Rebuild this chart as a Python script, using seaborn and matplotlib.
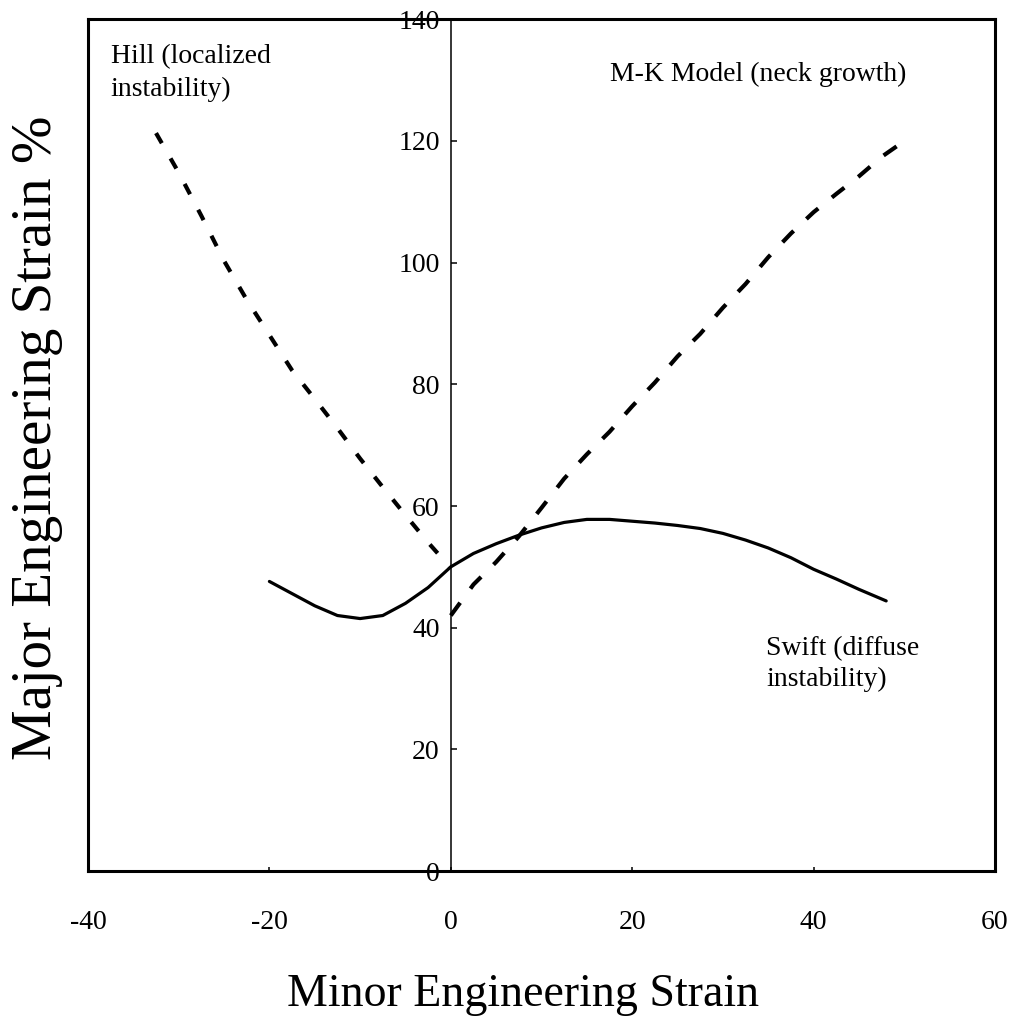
import matplotlib
matplotlib.use("Agg")
import matplotlib.pyplot as plt
import seaborn as sns
import pandas as pd

# ---- data ----
hill_x = [-32.5, -30, -27.5, -25, -22.5, -20, -17.5, -15, -12.5, -10, -7.5, -5, -2.5, 0]
hill_y = [121.3, 114.8, 107.7, 100.3, 93.9, 88.1, 82.3, 77.6, 72.8, 67.8, 63.1, 58.5, 54.0, 49.8]

mk_x = [0, 2.5, 5, 7.5, 10, 12.5, 15, 17.5, 20, 22.5, 25, 27.5, 30, 32.5, 35, 37.5, 40, 42.5, 45, 47.5, 50]
mk_y = [42.0, 47.1, 50.8, 55.0, 59.7, 64.5, 68.5, 72.2, 76.4, 80.3, 84.6, 88.3, 92.6, 96.5, 100.9,
        104.8, 108.3, 111.3, 114.2, 117.4, 120.0]

swift_x = [-20, -17.5, -15, -12.5, -10, -7.5, -5, -2.5, 0, 2.5, 5, 7.5, 10, 12.5, 15, 17.5, 20,
           22.5, 25, 27.5, 30, 32.5, 35, 37.5, 40, 42.5, 45, 48]
swift_y = [47.6, 45.6, 43.6, 42.0, 41.5, 42.0, 44.0, 46.6, 50.0, 52.2, 53.8, 55.2, 56.4, 57.3, 57.8,
           57.8, 57.5, 57.2, 56.8, 56.3, 55.5, 54.4, 53.1, 51.5, 49.6, 48.0, 46.3, 44.4]

x_ticks = [-40, -20, 0, 20, 40, 60]
y_ticks = [0, 20, 40, 60, 80, 100, 120, 140]

x_label = "Minor Engineering Strain"
y_label = "Major Engineering Strain %"
hill_text = "Hill (localized\ninstability)"
mk_text = "M-K Model (neck growth)"
swift_text = "Swift (diffuse\ninstability)"

# ---- style ----
sns.set_style("white")
plt.rcParams["font.family"] = ["Liberation Serif", "DejaVu Serif"]
plt.rcParams["text.color"] = "black"
plt.rcParams["axes.labelcolor"] = "black"
plt.rcParams["xtick.color"] = "black"
plt.rcParams["ytick.color"] = "black"

fig = plt.figure(figsize=(10.22, 10.28), dpi=100)
ax = fig.add_axes([0.0861, 0.1527, 0.8875, 0.8285])

hill_df = pd.DataFrame({"x": hill_x, "y": hill_y})
mk_df = pd.DataFrame({"x": mk_x, "y": mk_y})
swift_df = pd.DataFrame({"x": swift_x, "y": swift_y})

sns.lineplot(data=hill_df, x="x", y="y", ax=ax, color="black", lw=3.0,
             linestyle=(0, (2.8, 4.2)), sort=False)
sns.lineplot(data=mk_df, x="x", y="y", ax=ax, color="black", lw=3.0,
             linestyle=(0, (3.8, 4.2)), sort=False)
sns.lineplot(data=swift_df, x="x", y="y", ax=ax, color="black", lw=2.3, sort=False)

ax.set_xlim(-40, 60)
ax.set_ylim(0, 140)
ax.set_xticks(x_ticks)
ax.set_yticks(y_ticks)
ax.set_xticklabels([str(v) for v in x_ticks])
ax.set_yticklabels([str(v) for v in y_ticks])

# spines: box + y axis through x = 0
for s in ["top", "right", "bottom"]:
    ax.spines[s].set_linewidth(2.2)
    ax.spines[s].set_color("black")
ax.spines["left"].set_position(("data", 0))
ax.spines["left"].set_linewidth(1.1)
ax.spines["left"].set_color("black")
ax.plot([0, 0], [0, 1], transform=ax.transAxes, color="black", lw=2.2,
        clip_on=False, solid_capstyle="projecting")

ax.tick_params(axis="y", direction="in", length=4, width=1.1, pad=8,
               labelsize=20, left=True, colors="black")
ax.tick_params(axis="x", direction="in", length=3, width=1.1, pad=28,
               labelsize=20, bottom=True, colors="black")

ax.set_xlabel(x_label, fontsize=33, color="black")
ax.set_ylabel(y_label, fontsize=41, color="black")
ax.xaxis.set_label_coords(0.48, -0.12)
ax.yaxis.set_label_coords(-0.028, 0.509, transform=ax.transAxes)

ax.text(-37.5, 136.0, hill_text, fontsize=20, ha="left", va="top", linespacing=1.45, color="black")
ax.text(17.6, 133.0, mk_text, fontsize=20, ha="left", va="top", color="black")
ax.text(34.8, 38.6, swift_text, fontsize=20, ha="left", va="top", linespacing=1.3, color="black")

ax.grid(False)
fig.savefig("out.png", dpi=100)
